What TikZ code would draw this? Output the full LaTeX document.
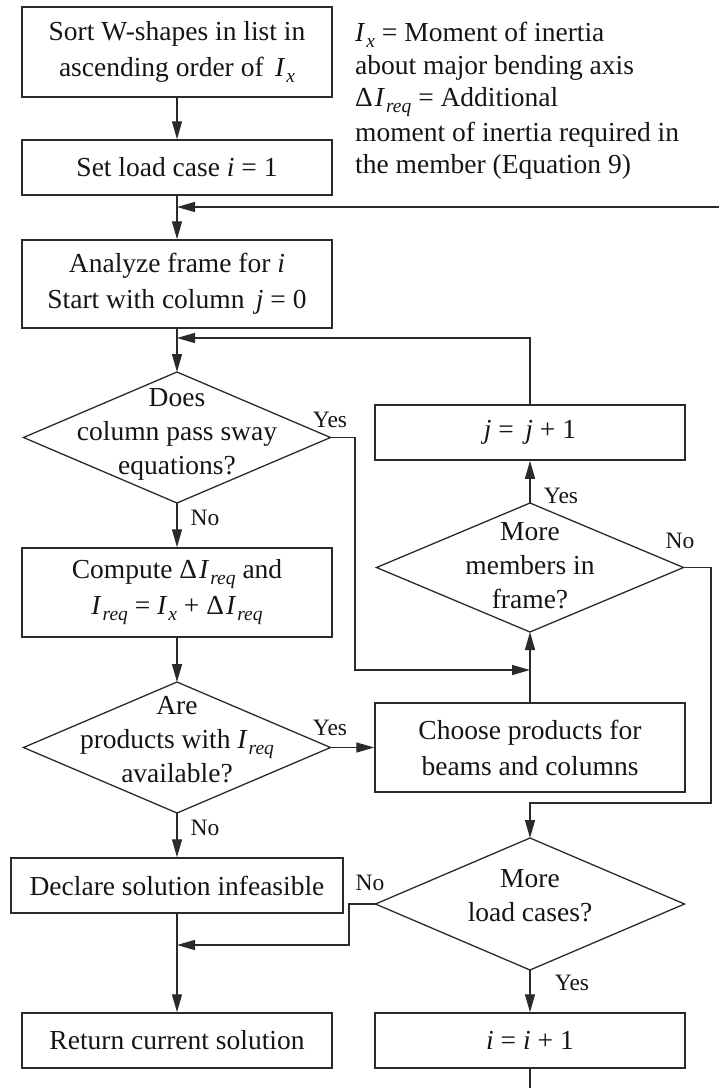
\documentclass[tikz,border=0pt]{standalone}
\usepackage{fontspec}
\setmainfont{Liberation Serif}
\usetikzlibrary{arrows.meta,shapes.geometric}

\definecolor{ink}{HTML}{151515}
\definecolor{rule}{HTML}{2A2A2A}

% italic letters and lowered subscripts set in the text font
\newcommand{\itv}[1]{\textit{#1}}
\newcommand{\lsub}[1]{\raisebox{-6pt}{\fontsize{19.5}{19.5}\selectfont\itshape #1}}
\newcommand{\Ix}{\itv{I}\kern1pt\lsub{x}}
\newcommand{\Ireq}{\itv{I}\kern1pt\lsub{req}}
\newcommand{\dIreq}{Δ\kern2pt\Ireq}

\tikzset{
  main/.style={font=\fontsize{27.5}{36}\selectfont, text=ink},
  stepbox/.style={main, draw=rule, line width=1.5pt, minimum width=310pt,
    align=center, inner sep=0pt},
  decision/.style={draw=rule, diamond, line width=1.3pt, inner sep=0pt,
    outer sep=0pt, minimum width=307pt, minimum height=131pt},
  dtext/.style={main, align=center, inner sep=0pt, font=\fontsize{27.5}{34}\selectfont},
  legend/.style={main, anchor=base west, inner sep=0pt},
  answer/.style={font=\fontsize{23.5}{25}\selectfont, text=ink, inner sep=0pt},
  flow/.style={draw=rule, line width=1.4pt, -{Triangle[length=18pt,width=10pt]}},
  plainline/.style={draw=rule, line width=1.4pt},
}

\begin{document}
\begin{tikzpicture}[x=1pt,y=-1pt]
\useasboundingbox (0,0) rectangle (719,1088);

% left column
\node[stepbox, minimum height=90pt] (sort) at (177,52)
  {Sort W-shapes in list in\\ascending order of \,\Ix};
\node[stepbox, minimum height=55pt] (setload) at (177,167.5)
  {Set load case \itv{i} = 1};
\node[stepbox, minimum height=88pt] (analyze) at (177,284)
  {Analyze frame for \itv{i}\\Start with column \,\itv{j} = 0};
\node[decision] (sway) at (177,437.5) {};
\node[dtext, yshift=3pt] (swaytxt) at (sway) {Does\\column pass sway\\equations?};
\node[stepbox, minimum height=89pt] (compute) at (177,592.5)
  {Compute \dIreq\ and\\\Ireq\ = \Ix\ + \dIreq};
\node[decision] (avail) at (177,747.5) {};
\node[dtext, yshift=8pt] (availtxt) at (avail) {Are\\products with \Ireq\\available?};
\node[stepbox, minimum width=332pt, minimum height=55pt] (declare) at (177,885.5)
  {Declare solution infeasible};
\node[stepbox, minimum height=55pt] (return) at (177,1040.5)
  {Return current solution};

% right column
\node[stepbox, minimum height=55pt] (nextj) at (530,432.5) {\itv{j} = \,\itv{j} + 1};
\node[decision, minimum height=129pt] (members) at (530,567.5) {};
\node[dtext, yshift=2pt] (memberstxt) at (members) {More\\members in\\frame?};
\node[stepbox, minimum height=89pt] (choose) at (530,747.5)
  {Choose products for\\beams and columns};
\node[decision, minimum width=309pt, minimum height=132pt] (loads) at (530,904) {};
\node[dtext, yshift=8pt] (loadstxt) at (loads) {More\\load cases?};
\node[stepbox, minimum height=55pt] (nexti) at (530,1040.5) {\itv{i} = \itv{i} + 1};

% key to the symbols
\node[legend] (k1) at (355,41) {\Ix\ = Moment of inertia};
\node[legend] (k2) at (355,74) {about major bending axis};
\node[legend] (k3) at (355,106) {\dIreq\ = Additional};
\node[legend] (k4) at (355,141) {moment of inertia required in};
\node[legend] (k5) at (355,173) {the member (Equation 9)};

% junction points on the connectors
\coordinate (loopin) at (719,207);
\coordinate (m1) at (177,207);
\coordinate (m2) at (177,338);
\coordinate (c1) at (355,670);
\coordinate (m3) at (530,670);
\coordinate (c2) at (711,803);
\coordinate (c3) at (349,945);
\coordinate (m4) at (177,945);
\coordinate (loopout) at (530,1088);

% connectors
\draw[flow] (sort) -- (setload);
\draw[flow] (setload) -- (analyze);
\draw[flow] (loopin) -- (m1);
\draw[flow] (analyze) -- (sway);
\draw[flow] (nextj.north) |- (m2);
\draw[flow] (sway.east) -| (c1) -- (m3);
\draw[flow] (sway) -- (compute);
\draw[flow] (compute) -- (avail);
\draw[flow] (avail.east) -- (choose.west);
\draw[flow] (choose) -- (members);
\draw[flow] (members) -- (nextj);
\draw[flow] (members.east) -| (c2) -| (loads.north);
\draw[flow] (avail) -- (declare);
\draw[flow] (loads.west) -| (c3) -- (m4);
\draw[flow] (declare) -- (return);
\draw[flow] (loads) -- (nexti);
\draw[plainline] (nexti) -- (loopout);

% branch labels
\node[answer] (y1) at (330,420) {Yes};
\node[answer] (n1) at (205,518) {No};
\node[answer] (y2) at (561,496) {Yes};
\node[answer] (n2) at (680,541) {No};
\node[answer] (y3) at (330,728) {Yes};
\node[answer] (n3) at (205,828) {No};
\node[answer] (n4) at (370,883) {No};
\node[answer] (y4) at (572,983) {Yes};
\end{tikzpicture}
\end{document}
